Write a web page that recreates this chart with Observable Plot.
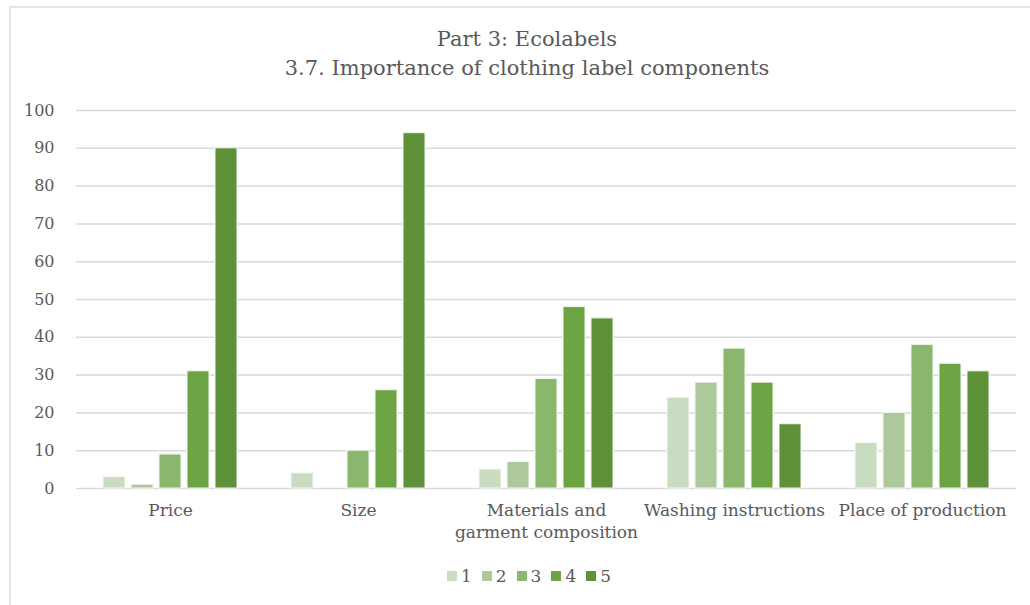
<!DOCTYPE html>
<html>
<head>
<meta charset="utf-8">
<script src="https://cdn.jsdelivr.net/npm/d3@7"></script>
<script src="https://cdn.jsdelivr.net/npm/@observablehq/plot@0.6"></script>
<style>
  body { margin: 0; background: #fff; width: 1030px; height: 605px; overflow: hidden;
         font-family: "DejaVu Serif", serif; color: #595959; position: relative; }
  #frame { position: absolute; left: 9px; top: 6px; right: 0; bottom: 0;
           border-left: 2px solid #e4e4e4; border-top: 2px solid #e4e4e4; }
  #title { position: absolute; left: 0; width: 1054px; top: 25px; text-align: center;
           font-size: 21px; line-height: 29px; color: #595959; }
  #chart { position: absolute; left: 0; top: 0; }
  #legend { position: absolute; left: 0; width: 1058px; top: 566px; display: flex;
            justify-content: center; gap: 10px; font-size: 17px; }
  #legend span { display: inline-flex; align-items: center; gap: 4px; }
  #legend i { display: inline-block; width: 10px; height: 10px; }
</style>
</head>
<body>
<div id="frame"></div>
<div id="title">Part 3: Ecolabels<br>3.7. Importance of clothing label components</div>
<div id="chart"></div>
<div id="legend"></div>
<script>
// Label components and the rating scale (1 = least, 5 = most important)
const categories = ["Price", "Size", "Materials and garment composition", "Washing instructions", "Place of production"];
const ratings = ["1", "2", "3", "4", "5"];

// Number of answers per rating, in the order of the categories above
const rating1 = [3, 4, 5, 24, 12];
const rating2 = [1, 0, 7, 28, 20];
const rating3 = [9, 10, 29, 37, 38];
const rating4 = [31, 26, 48, 28, 33];
const rating5 = [90, 94, 45, 17, 31];

const yTicks = [0, 10, 20, 30, 40, 50, 60, 70, 80, 90, 100];
const colors = ["#c9dbc0", "#adc99c", "#8ab66e", "#6ca443", "#5e913a"];

const series = [rating1, rating2, rating3, rating4, rating5];
const rows = [];
categories.forEach((c, i) => {
  ratings.forEach((r, j) => rows.push({ category: c, rating: r, value: series[j][i] }));
});

const wrap = {"Materials and garment composition": "Materials and\ngarment composition"};

const chart = Plot.plot({
  width: 1030,
  height: 560,
  marginTop: 110,
  marginBottom: 72,
  marginLeft: 75,
  marginRight: 13,
  style: { fontFamily: "DejaVu Serif, serif", color: "#595959", background: "transparent" },
  fx: { domain: categories, padding: 0, label: null, axis: null },
  x: { domain: ratings, axis: null, paddingInner: 0.2, paddingOuter: 0.86 },
  y: { domain: [0, 100], axis: null },
  color: { domain: ratings, range: colors },
  marks: [
    Plot.ruleY(yTicks, { stroke: "#d9d9d9", strokeWidth: 1.5 }),
    Plot.barY(rows, { fx: "category", x: "rating", y: "value", fill: "rating", stroke: "#f4f8f1", strokeWidth: 1 }),
    Plot.axisY({ ticks: yTicks, tickSize: 0, tickPadding: 22, label: null, fontSize: 16 }),
    Plot.axisFx({ anchor: "bottom", tickSize: 0, tickPadding: 12, label: null, fontSize: 17,
                  lineHeight: 1.3, tickFormat: d => wrap[d] ?? d })
  ]
});
document.getElementById("chart").appendChild(chart);

const legend = d3.select("#legend");
ratings.forEach((r, i) => {
  const s = legend.append("span");
  s.append("i").style("background", colors[i]);
  s.append("b").style("font-weight", "normal").text(r);
});
</script>
</body>
</html>
